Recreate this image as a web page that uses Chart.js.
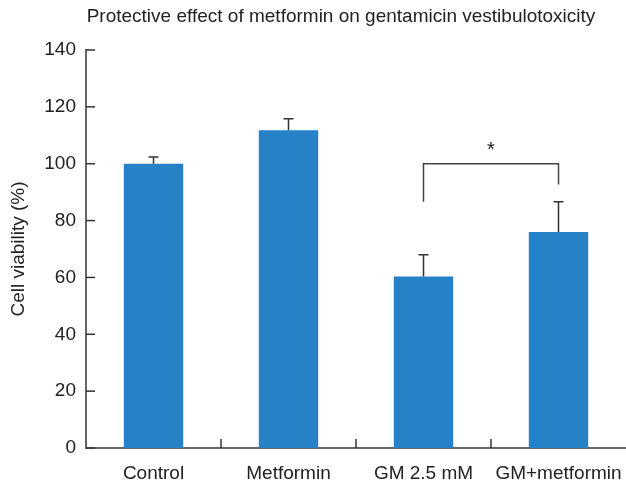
<!DOCTYPE html>
<html>
<head>
<meta charset="utf-8">
<script src="https://cdn.jsdelivr.net/npm/chart.js@4.4.1/dist/chart.umd.min.js"></script>
<style>
  html, body { margin: 0; padding: 0; background: #fff; }
</style>
</head>
<body>
<canvas id="myChart" width="626" height="486"></canvas>
<script>
// data
const labels = ["Control", "Metformin", "GM 2.5 mM", "GM+metformin"];
const viability = [100, 111.8, 60.3, 76];
const errUpper = [2.4, 4.0, 7.7, 10.6];
const yMin = 0, yMax = 140, yStep = 20;

// significance bracket between GM 2.5 mM and GM+metformin
const bracketPair = [2, 3];
const bracketTop = 100;
const bracketEnds = [86.6, 92.7];
const sigMark = "*";

const chartTitle = "Protective effect of metformin on gentamicin vestibulotoxicity";
const FONT = "'Liberation Sans', Arial, sans-serif";

const extras = {
    id: "extras",
    afterDatasetsDraw(chart) {
        const ctx = chart.ctx;
        const x = chart.scales.x;
        const y = chart.scales.y;
        const area = chart.chartArea;
        ctx.save();

        // error bars (upper only)
        ctx.strokeStyle = "#333";
        ctx.lineWidth = 1.5;
        viability.forEach((v, i) => {
            const cx = x.getPixelForValue(i);
            const top = y.getPixelForValue(v + errUpper[i]);
            ctx.beginPath();
            ctx.moveTo(cx, y.getPixelForValue(v));
            ctx.lineTo(cx, top);
            ctx.moveTo(cx - 5, top);
            ctx.lineTo(cx + 5, top);
            ctx.stroke();
        });

        // inward y ticks
        for (let t = yMin; t <= yMax; t += yStep) {
            const py = y.getPixelForValue(t);
            ctx.beginPath();
            ctx.moveTo(area.left, py);
            ctx.lineTo(area.left + 9, py);
            ctx.stroke();
        }

        // category separators on x axis
        for (let i = 0; i < labels.length - 1; i++) {
            const px = (x.getPixelForValue(i) + x.getPixelForValue(i + 1)) / 2;
            ctx.beginPath();
            ctx.moveTo(px, area.bottom);
            ctx.lineTo(px, area.bottom - 9);
            ctx.stroke();
        }

        // bracket
        const x1 = x.getPixelForValue(bracketPair[0]);
        const x2 = x.getPixelForValue(bracketPair[1]);
        const yb = y.getPixelForValue(bracketTop);
        ctx.strokeStyle = "#444";
        ctx.beginPath();
        ctx.moveTo(x1, y.getPixelForValue(bracketEnds[0]));
        ctx.lineTo(x1, yb);
        ctx.lineTo(x2, yb);
        ctx.lineTo(x2, y.getPixelForValue(bracketEnds[1]));
        ctx.stroke();

        ctx.fillStyle = "#222";
        ctx.font = "20px " + FONT;
        ctx.textAlign = "center";
        ctx.textBaseline = "middle";
        ctx.fillText(sigMark, (x1 + x2) / 2, yb - 13);

        // title
        ctx.font = "19px " + FONT;
        ctx.fillText(chartTitle, 341, 17);
        ctx.restore();
    }
};

new Chart(document.getElementById("myChart"), {
    type: "bar",
    data: {
        labels: labels,
        datasets: [
            {
                label: "Cell viability",
                data: viability,
                backgroundColor: "#2681c7",
                borderWidth: 0,
                barPercentage: 0.44,
                categoryPercentage: 1
            }
        ]
    },
    options: {
        responsive: false,
        animation: false,
        layout: { padding: { top: 50, right: 0, left: 0, bottom: 0 } },
        plugins: {
            legend: { display: false },
            tooltip: { enabled: false },
            title: { display: false }
        },
        scales: {
            x: {
                grid: { display: false },
                border: { color: "#666", width: 2 },
                ticks: { color: "#222", font: { size: 19, family: FONT }, padding: 6, maxRotation: 0 },
                afterFit: (s) => { s.height = 38; s.paddingRight = 0; s.paddingLeft = 0; }
            },
            y: {
                min: yMin,
                max: yMax,
                grid: { display: false },
                border: { color: "#666", width: 2 },
                ticks: { stepSize: yStep, color: "#222", font: { size: 19, family: FONT }, padding: 2 },
                title: {
                    display: true,
                    text: "Cell viability (%)",
                    color: "#222",
                    font: { size: 19, family: FONT },
                    padding: { top: 7, bottom: 0 }
                },
                afterFit: (s) => { s.width = 86; }
            }
        }
    },
    plugins: [extras]
});
</script>
</body>
</html>
